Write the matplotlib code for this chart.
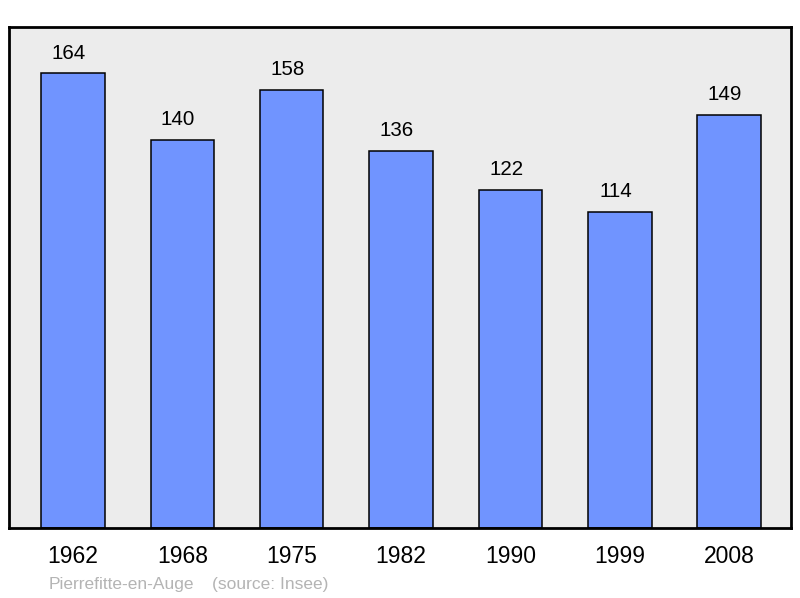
import matplotlib
matplotlib.use("Agg")
import matplotlib.pyplot as plt

years = ["1962", "1968", "1975", "1982", "1990", "1999", "2008"]
population = [164, 140, 158, 136, 122, 114, 149]
commune = "Pierrefitte-en-Auge"
source = "(source: Insee)"

plt.rcParams['font.family'] = ['Liberation Sans', 'DejaVu Sans']

fig = plt.figure(figsize=(8, 5.98), dpi=100)
ax = fig.add_axes([9/800, 70/598, 782/800, 501/598])
ax.set_facecolor('#ececec')
x = list(range(len(years)))
ax.bar(x, population, width=0.58, color='#7094ff', edgecolor='black', linewidth=1.1, zorder=2)
for xi, v in zip(x, population):
    ax.annotate(str(v), (xi, v), xytext=(-3, 7.5), textcoords='offset points',
                ha='center', va='bottom', fontsize=14.8)
ax.set_xlim(-0.585, 6.565)
ax.set_ylim(0, 180.6)
ax.set_xticks(x)
ax.set_xticklabels(years, fontsize=16.5)
ax.tick_params(axis='x', length=0, pad=12)
ax.set_yticks([])
for s in ax.spines.values():
    s.set_linewidth(2)
fig.text(49/800, 1 - 584/598, commune, color='#b4b4b4', fontsize=12.5, va='center', ha='left')
fig.text(212/800, 1 - 584/598, source, color='#b4b4b4', fontsize=12.5, va='center', ha='left')
fig.savefig('out.png', dpi=100)
